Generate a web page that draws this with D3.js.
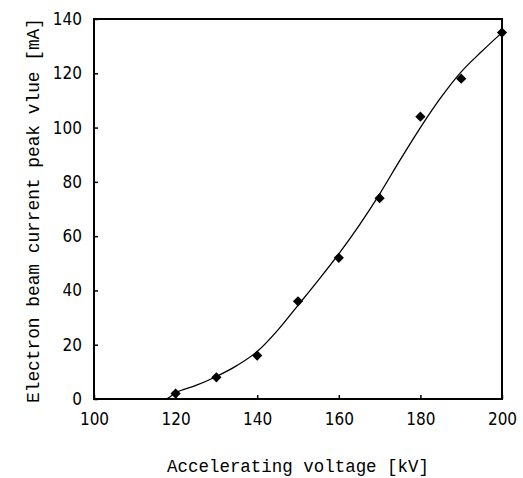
<!DOCTYPE html>
<html lang="en">
<head>
<meta charset="utf-8">
<title>Electron beam current vs accelerating voltage</title>
<script src="https://cdn.jsdelivr.net/npm/d3@7"></script>
<style>
body { margin: 0; background: #fff; }
.tick text { font-family: "DejaVu Sans Condensed", "Liberation Sans Narrow", sans-serif; font-stretch: condensed; font-size: 17px; fill: #000; }
.title { font-family: "Liberation Mono", "DejaVu Sans Mono", monospace; font-size: 18px; fill: #000; }
</style>
</head>
<body>
<script>
// measured points
var voltage = [120, 130, 140, 150, 160, 170, 180, 190, 200];
var current = [2, 8, 16, 36, 52, 74, 104, 118, 135];

// fitted curve
var fitVoltage = [100, 110, 117.5, 120, 125, 130, 135, 140, 145, 150, 155, 160, 165, 170, 175, 180, 185, 190, 195, 200];
var fitCurrent = [0, 0, 0, 2.3, 5, 8.3, 12.3, 17.5, 25.3, 34.5, 43.8, 53.5, 64, 75.5, 88, 100, 111, 120.5, 128, 135];

var xTicks = [100, 120, 140, 160, 180, 200];
var yTicks = [0, 20, 40, 60, 80, 100, 120, 140];

var w = 523, h = 478;
var mLeft = 94, mRight = 502, mTop = 19, mBottom = 399;

var x = d3.scaleLinear().domain([100, 200]).range([mLeft, mRight]);
var y = d3.scaleLinear().domain([0, 140]).range([mBottom, mTop]);

var svg = d3.select("body").append("svg")
	.attr("width", w)
	.attr("height", h);

// frame
svg.append("rect")
	.attr("x", mLeft).attr("y", mTop)
	.attr("width", mRight - mLeft).attr("height", mBottom - mTop)
	.attr("fill", "none").attr("stroke", "#000").attr("stroke-width", 2);

var xAxis = svg.append("g")
	.attr("transform", "translate(0," + mBottom + ")")
	.call(d3.axisBottom(x).tickValues(xTicks).tickSize(-4).tickPadding(14).tickFormat(d3.format("d")));

var yAxis = svg.append("g")
	.attr("transform", "translate(" + mLeft + ",0)")
	.call(d3.axisLeft(y).tickValues(yTicks).tickSize(-4).tickPadding(12).tickFormat(d3.format("d")));

[xAxis, yAxis].forEach(function(a) {
	a.select(".domain").remove();
	a.selectAll(".tick line").attr("stroke", "#000").attr("stroke-width", 1.5);
});

// fitted line
var line = d3.line()
	.x(function(d) { return x(d[0]); })
	.y(function(d) { return y(d[1]); })
	.curve(d3.curveMonotoneX);

svg.append("path")
	.datum(d3.zip(fitVoltage, fitCurrent))
	.attr("d", line)
	.attr("fill", "none")
	.attr("stroke", "#000")
	.attr("stroke-width", 1.3);

// diamonds
svg.selectAll("path.pt")
	.data(d3.zip(voltage, current))
	.enter()
	.append("path")
	.attr("class", "pt")
	.attr("d", d3.symbol().type(d3.symbolSquare).size(52))
	.attr("transform", function(d) {
		return "translate(" + x(d[0]) + "," + y(d[1]) + ") rotate(45)";
	})
	.attr("fill", "#000");

svg.append("text")
	.attr("class", "title")
	.attr("x", 167).attr("y", 472)
	.attr("textLength", 262)
	.attr("lengthAdjust", "spacingAndGlyphs")
	.text("Accelerating voltage [kV]");

svg.append("text")
	.attr("class", "title")
	.attr("transform", "translate(39,403) rotate(-90)")
	.attr("textLength", 385)
	.attr("lengthAdjust", "spacingAndGlyphs")
	.text("Electron beam current peak vlue [mA]");
</script>
</body>
</html>
